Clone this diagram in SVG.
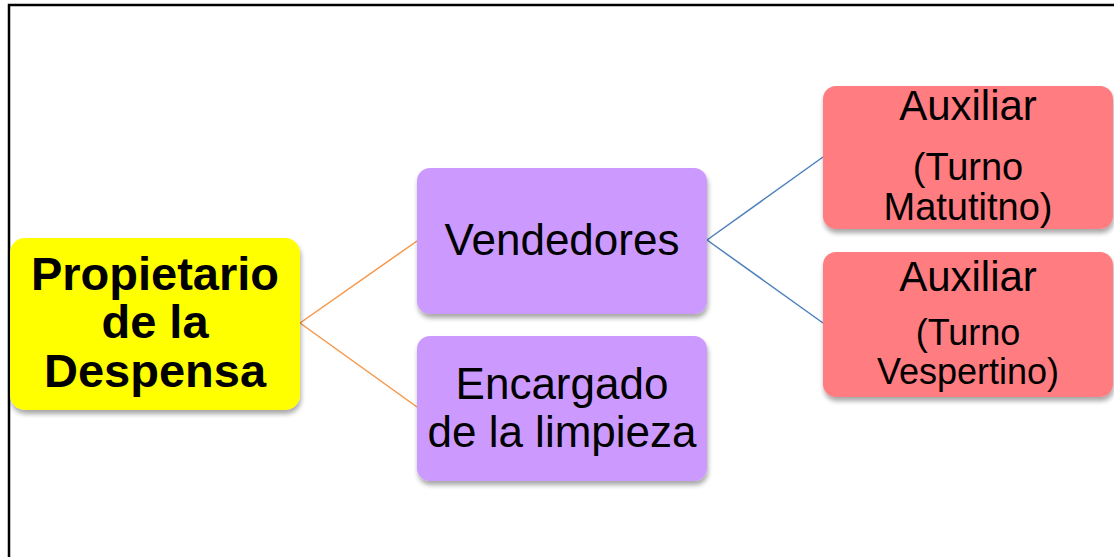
<svg xmlns="http://www.w3.org/2000/svg" width="1114" height="557" viewBox="0 0 1114 557">
<defs>
<filter id="sh" x="-10%" y="-10%" width="120%" height="130%">
<feGaussianBlur in="SourceAlpha" stdDeviation="2.5"/>
<feOffset dx="1" dy="4" result="b"/>
<feComponentTransfer><feFuncA type="linear" slope="0.35"/></feComponentTransfer>
<feMerge><feMergeNode/><feMergeNode in="SourceGraphic"/></feMerge>
</filter>
</defs>
<style>
text{font-family:"Liberation Sans",Arial,sans-serif;fill:#000;text-anchor:middle}
.b{font-weight:bold;font-size:47px}
.m{font-size:44px}
.a{font-size:42px}
.s{font-size:38px}
.t{font-size:36px}
.purple{fill:#CC99FF}
.red{fill:#FF7C80}
</style>
<rect width="1114" height="557" fill="#fff"/>
<path d="M9 557 V5 H1114" fill="none" stroke="#000" stroke-width="2.5"/>
<g id="connectors" fill="none" stroke-width="1.5">
<path d="M300 323 L417 241 M300 323 L417 407" stroke="#F79646"/>
<path d="M707 240 L823 157 M707 240 L823 323" stroke="#4F81BD"/>
</g>
<g id="propietario">
<rect x="10" y="238" width="290" height="172" rx="15" fill="#FFFF00" filter="url(#sh)"/>
<text class="b" x="155" y="290">Propietario</text>
<text class="b" x="155" y="338">de la</text>
<text class="b" x="155" y="387">Despensa</text>
</g>
<g id="vendedores">
<rect class="purple" x="417" y="168" width="290" height="146" rx="13" filter="url(#sh)"/>
<text class="m" x="562" y="255">Vendedores</text>
</g>
<g id="encargado">
<rect class="purple" x="417" y="336" width="290" height="145" rx="13" filter="url(#sh)"/>
<text class="m" x="562" y="399">Encargado</text>
<text class="m" x="562" y="447">de la limpieza</text>
</g>
<g id="auxiliar-matutino">
<rect class="red" x="823" y="86" width="290" height="143" rx="13" filter="url(#sh)"/>
<text class="a" x="968" y="120">Auxiliar</text>
<text class="s" x="968" y="180">(Turno</text>
<text class="s" x="968" y="220">Matutitno)</text>
</g>
<g id="auxiliar-vespertino">
<rect class="red" x="823" y="252" width="290" height="145" rx="13" filter="url(#sh)"/>
<text class="a" x="968" y="291">Auxiliar</text>
<text class="t" x="968" y="345">(Turno</text>
<text class="t" x="968" y="384">Vespertino)</text>
</g>
</svg>
